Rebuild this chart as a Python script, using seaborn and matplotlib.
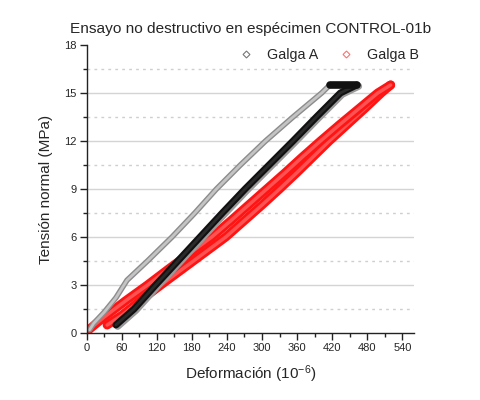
import matplotlib
matplotlib.use("Agg")
import matplotlib.pyplot as plt
import matplotlib.patheffects as pe
from matplotlib.lines import Line2D
from matplotlib.ticker import MultipleLocator
import seaborn as sns
import pandas as pd

# Galga A: carga (rama superior), meseta y descarga
a_carga_x = [5, 12, 30, 50, 69, 104, 146, 185, 222, 263, 306, 353, 402, 416]
a_carga_y = [0.2, 0.6, 1.3, 2.2, 3.3, 4.5, 6.0, 7.5, 9.0, 10.5, 12.0, 13.5, 15.0, 15.5]
a_meseta_x = [416, 440, 462]
a_meseta_y = [15.5, 15.5, 15.5]
a_descarga_x = [462, 445, 434, 393, 353, 312, 271, 232, 194, 156, 118, 81, 50]
a_descarga_y = [15.5, 15.2, 15.0, 13.5, 12.0, 10.5, 9.0, 7.5, 6.0, 4.5, 3.0, 1.5, 0.5]

# Galga B: carga y descarga
b_carga_x = [0, 30, 66, 104, 140, 177, 214, 246, 277, 308, 339, 369, 400, 432, 465, 498, 520]
b_carga_y = [0.1, 1.0, 2.0, 3.0, 4.0, 5.0, 6.0, 7.0, 8.0, 9.0, 10.0, 11.0, 12.0, 13.0, 14.0, 15.0, 15.5]
b_descarga_x = [520, 504, 475, 445, 415, 387, 359, 330, 300, 269, 238, 201, 164, 127, 91, 60, 35]
b_descarga_y = [15.5, 15.0, 14.0, 13.0, 12.0, 11.0, 10.0, 9.0, 8.0, 7.0, 6.0, 5.0, 4.0, 3.0, 2.0, 1.1, 0.5]

sns.set_theme(style="white")
plt.rcParams["font.family"] = ["Liberation Sans", "DejaVu Sans"]
plt.rcParams["mathtext.default"] = "regular"

fig = plt.figure(figsize=(4.8, 4), dpi=100)
ax = fig.add_axes([0.1806, 0.1675, 0.6819, 0.72])

# rejilla horizontal
for v in [3, 6, 9, 12, 15]:
    ax.axhline(v, color="#d4d4d4", lw=1, zorder=0)
for v in [1.5, 4.5, 7.5, 10.5, 13.5, 16.5]:
    ax.axhline(v, color="#cfcfcf", lw=1, ls=(0, (2, 3)), zorder=0)

def rama(x, y, color, lw, efectos):
    df = pd.DataFrame({"x": x, "y": y})
    sns.lineplot(data=df, x="x", y="y", sort=False, estimator=None, ax=ax,
                 color=color, lw=lw, solid_capstyle="round", solid_joinstyle="round",
                 path_effects=efectos)

# Galga B (rojo)
rojo = [pe.Stroke(linewidth=6.5, foreground="#ff1414"), pe.Normal()]
rama(b_descarga_x, b_descarga_y, "#ff5252", 2.5, rojo)
rama(b_carga_x, b_carga_y, "#ff5252", 2.5, rojo)

# Galga A (gris / negro)
gris = [pe.Stroke(linewidth=4.0, foreground="#8c8c8c"), pe.Normal()]
rama(a_carga_x, a_carga_y, "#c4c4c4", 2.0, gris)
negro = [pe.Stroke(linewidth=5.2, foreground="#9a9a9a", offset=(1.3, -0.9)),
         pe.Stroke(linewidth=5, foreground="#111111"), pe.Normal()]
rama(a_descarga_x, a_descarga_y, "#2a2a2a", 2.0, negro)
rama(a_meseta_x, a_meseta_y, "#111111", 5.5, None)

ax.set_ylim(0, 18)
ax.xaxis.set_minor_locator(MultipleLocator(30))
ax.yaxis.set_major_locator(MultipleLocator(3))
ax.yaxis.set_minor_locator(MultipleLocator(1.5))
ax.set_xticks(range(0, 541, 60))
ax.set_xlim(0, 560)

for s in ["top", "right"]:
    ax.spines[s].set_visible(False)
for s in ["left", "bottom"]:
    ax.spines[s].set_color("#222222")
    ax.spines[s].set_linewidth(1)

ax.tick_params(which="major", direction="out", length=5, width=1, color="#222222",
               labelsize=8, pad=2, left=True, bottom=True)
ax.tick_params(which="minor", direction="out", length=3, width=1, color="#222222",
               left=True, bottom=True)

ax.set_xlabel("Deformación (10$^{-6}$)", fontsize=11, labelpad=8)
ax.set_ylabel("Tensión normal (MPa)", fontsize=11, labelpad=8)
ax.set_title("Ensayo no destructivo en espécimen CONTROL-01b", fontsize=11.1, pad=9)

handles = [
    Line2D([], [], ls="none", marker="D", ms=3.5, mfc="none", mec="#777777", mew=0.8),
    Line2D([], [], ls="none", marker="D", ms=3.5, mfc="none", mec="#ff7070", mew=0.8),
]
ax.legend(handles, ["Galga A", "Galga B"], ncol=2, frameon=False, loc="upper right",
          bbox_to_anchor=(1.055, 1.035), fontsize=10.3, handletextpad=0.9,
          columnspacing=1.3, handlelength=1.2)

fig.savefig("out.png", dpi=100)
